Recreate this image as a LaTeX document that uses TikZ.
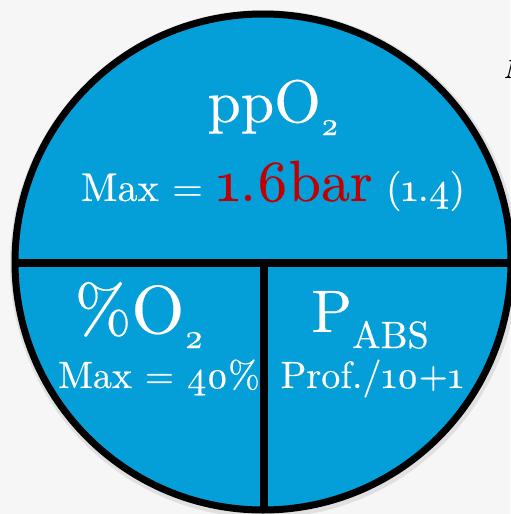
\documentclass[tikz,border=0pt]{standalone}
\usepackage{fontspec}
\usepackage{tikz}
\setmainfont{lmroman10-regular}[Extension=.otf, Numbers=OldStyle,
    ItalicFont=lmroman10-italic, FakeBold=0.3]
\definecolor{pieblue}{RGB}{4,158,216}
\definecolor{barred}{RGB}{192,0,0}
\definecolor{paper}{RGB}{246,246,246}
\newcommand{\fsz}[1]{\fontsize{#1}{#1}\selectfont}

\begin{document}
\begin{tikzpicture}[x=0.5pt,y=-0.5pt,
    lbl/.style={text=white, inner sep=0pt, anchor=base},
    divider/.style={line width=4pt}
]
    \fill[paper] (0,0) rectangle (510,514);
    \useasboundingbox (0,0) rectangle (510,514);
    \coordinate (c) at (263,262);
    % disc with its faint shadow
    \fill[black!12] (264,264) circle[radius=254];
    \fill[pieblue] (c) circle[radius=248];
    \begin{scope}
        \clip (c) circle[radius=248];
        \draw[divider] (0,263) -- (520,263);
        \draw[divider] (264,263) -- (264,520);
    \end{scope}
    \draw[line width=3.5pt] (c) circle[radius=248];
    % labels
    \node[lbl, font=\fsz{30}] (ppo) at (273,122) {ppO\raisebox{-6.5pt}{\fsz{16}2}};
    \node[lbl, font=\fsz{20}] (maxpp) at (273,201) {Max = {\color{barred}\fsz{29}1.6bar} (1.4)};
    \node[lbl, font=\fsz{34}] (pcto) at (139,333) {\%O\raisebox{-7.5pt}{\fsz{17}2}};
    \node[lbl, font=\fsz{19}] (maxpct) at (159,388) {Max = 40\%};
    \node[lbl, font=\fsz{30}] (pabs) at (370,332) {P\raisebox{-8pt}{\fsz{19}ABS}};
    \node[lbl, font=\fsz{19}] (prof) at (372,388) {Prof./10+1};
    \node[inner sep=0pt, anchor=base west, font=\fsz{13}\itshape] (edge) at (503,78) {M};
\end{tikzpicture}
\end{document}
